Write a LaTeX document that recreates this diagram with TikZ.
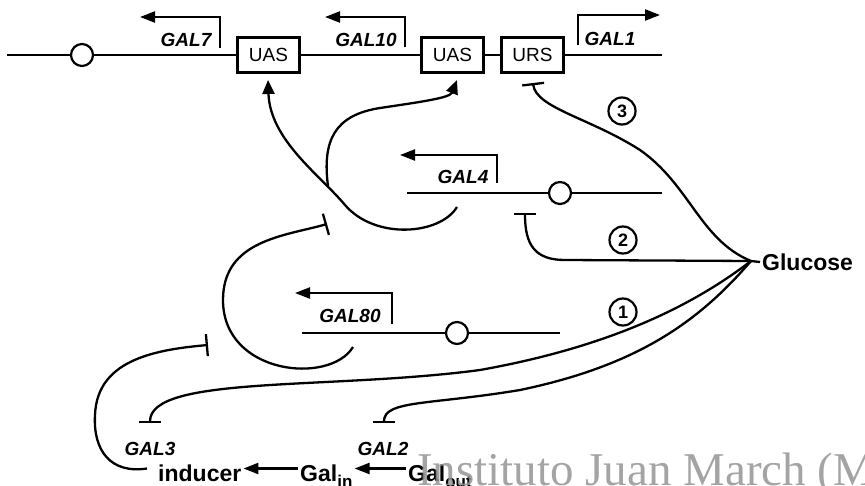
\documentclass[tikz,border=0pt]{standalone}
\usepackage{fontspec}
\setmainfont{Liberation Sans}
\newfontfamily\wmfont{Liberation Serif}
\usetikzlibrary{arrows.meta,calc}

\begin{document}
\begin{tikzpicture}[x=1pt,y=-1pt,
  gwire/.style={line width=2.3pt},
  gsite/.style={draw,line width=2.4pt,minimum width=62pt,minimum height=35pt,inner sep=0pt,
                fill=white,font=\fontsize{19}{19}\selectfont},
  gring/.style={draw,circle,line width=2.2pt,minimum size=22pt,inner sep=0pt,fill=white},
  glabel/.style={inner sep=0pt,font=\fontsize{19}{19}\selectfont\bfseries\itshape},
  gtx/.style={gwire,-{Triangle[length=15pt,width=11pt]}},
  gact/.style={gwire,-{Triangle[length=14pt,width=12pt]}},
  grep/.style={gwire,-{Bar[width=22pt]}},
  garr/.style={gwire,-{Triangle[length=15pt,width=11pt]}},
  gnum/.style={draw,circle,line width=2.2pt,minimum size=27pt,inner sep=0pt,
               font=\fontsize{18}{18}\selectfont\bfseries},
  gbig/.style={inner sep=2pt,text height=17pt,text depth=0pt,
               font=\fontsize{23}{23}\selectfont\bfseries},
]
\useasboundingbox (0,0) rectangle (865,485);

% ---------- top chromosome: GAL7 - GAL10 - GAL1 ----------
\coordinate (topL) at (7,55);
\node[gring] (o7) at (82,55) {};
\node[gsite] (uas1) at (268.5,55) {UAS};
\node[gsite] (uas2) at (452.5,55) {UAS};
\node[gsite] (urs) at (532.5,55) {URS};
\coordinate (topR) at (662,55);
\draw[gwire] (topL) -- (o7) -- (uas1) -- (uas2) -- (urs) -- (topR);

% transcription start arrows
\coordinate (p7) at (220,48);  \coordinate (e7) at (140,17);
\coordinate (p10) at (405,47); \coordinate (e10) at (325,17);
\coordinate (p1) at (578,45);  \coordinate (e1) at (660,15);
\draw[gtx] (p7) |- (e7);
\draw[gtx] (p10) |- (e10);
\draw[gtx] (p1) |- (e1);
\node[glabel] (l7) at (186,40) {GAL7};
\node[glabel] (l10) at (366,40) {GAL10};
\node[glabel] (l1) at (610,38.5) {GAL1};

% ---------- GAL4 gene ----------
\coordinate (g4L) at (407,193);
\node[gring] (o4) at (560,193) {};
\coordinate (g4R) at (662,193);
\draw[gwire] (g4L) -- (o4) -- (g4R);
\coordinate (p4) at (497,183); \coordinate (e4) at (400,155);
\draw[gtx] (p4) |- (e4);
\node[glabel] (l4) at (463,177) {GAL4};

% ---------- GAL80 gene ----------
\coordinate (g80L) at (302,333);
\node[gring] (o80) at (457,333) {};
\coordinate (g80R) at (560,333);
\draw[gwire] (g80L) -- (o80) -- (g80R);
\coordinate (p80) at (392,324); \coordinate (e80) at (295,293);
\draw[gtx] (p80) |- (e80);
\node[glabel] (l80) at (350,316) {GAL80};

% ---------- regulatory links ----------
\coordinate (s4) at (457,207);
\coordinate (a1) at (268,80);
\coordinate (fk) at (328,186);
\coordinate (a2) at (457,80);
\draw[gact] (s4) .. controls (440,235) and (375,240) .. (345,205)
                 .. controls (320,175) and (270,140) .. (a1);
\draw[gact] (fk) .. controls (322,140) and (335,115) .. (380,108)
                 .. controls (420,102) and (450,98) .. (a2);

\coordinate (s80) at (353,347);
\coordinate (t80) at (327,224);
\draw[grep] (s80) .. controls (330,385) and (223,375) .. (223,300)
                  .. controls (223,240) and (285,236) .. (t80);

% ---------- glucose repression ----------
\node[gbig,anchor=west] (glu) at (760,262) {Glucose};
\coordinate (gj) at (751,261);
\coordinate (t3) at (533,83);
\coordinate (t2) at (525,213);
\coordinate (tg3) at (150,423);
\coordinate (tg2) at (384,423);
\draw[gwire] (gj) -- (glu.west);
\draw[grep] (gj) .. controls (700,240) and (690,185) .. (640,150)
                 .. controls (590,118) and (536,108) .. (t3);
\draw[grep] (gj) -- (565,260) .. controls (535,260) and (525,245) .. (t2);
\draw[grep] (gj) .. controls (700,300) and (620,345) .. (480,370)
                 .. controls (330,390) and (150,375) .. (tg3);
\draw[grep] (gj) .. controls (700,320) and (640,365) .. (520,390)
                 .. controls (430,405) and (384,400) .. (tg2);

\node[gnum] (n3) at (622,111) {3};
\node[gnum] (n2) at (623,240) {2};
\node[gnum] (n1) at (623,312) {1};

% ---------- galactose uptake ----------
\node[glabel] (l3) at (150,449) {GAL3};
\node[glabel] (l2) at (383,449) {GAL2};
\node[gbig,anchor=base west] (ind) at (156,481) {inducer};
\node[gbig,anchor=base west] (galin) at (298,481)
  {Gal\raisebox{-6pt}{\fontsize{17}{17}\selectfont in}};
\node[gbig,anchor=base west] (galout) at (406,481)
  {Gal\raisebox{-6pt}{\fontsize{17}{17}\selectfont out}};
\draw[garr] ([yshift=4pt]galin.west) -- ([yshift=4pt]ind.east);
\draw[garr] ([yshift=4pt]galout.west) -- ([yshift=4pt]galin.east);

\coordinate (tin) at (208,345);
\draw[grep] ([xshift=-9pt,yshift=4pt]ind.west) .. controls (110,474) and (93,450) .. (95,415)
                 .. controls (97,362) and (150,350) .. (tin);

% ---------- archive stamp ----------
\begin{scope}
  \clip (0,0) rectangle (865,485);
  \node[anchor=base west,inner sep=0pt,text=black!42,opacity=.85,
        font=\wmfont\fontsize{47}{47}\selectfont] (stamp) at (417,485)
        {Instituto Juan March (Madrid)};
\end{scope}
\end{tikzpicture}
\end{document}
